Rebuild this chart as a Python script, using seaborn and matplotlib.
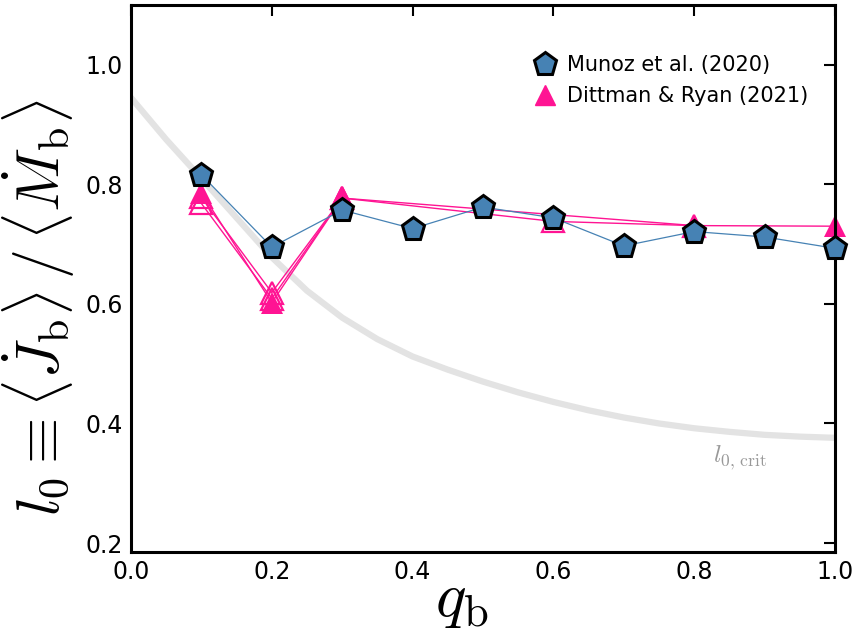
import numpy as np
import pandas as pd
import matplotlib
matplotlib.use("Agg")
import matplotlib.pyplot as plt
import seaborn as sns
from matplotlib.lines import Line2D

# ---- data ----
q_munoz = [0.1, 0.2, 0.3, 0.4, 0.5, 0.6, 0.7, 0.8, 0.9, 1.0]
l0_munoz = [0.816, 0.695, 0.757, 0.726, 0.762, 0.744, 0.697, 0.721, 0.712, 0.693]

q_dr_a = [0.1, 0.2, 0.3, 0.8, 1.0]
l0_dr_a = [0.786, 0.602, 0.777, 0.731, 0.730]
q_dr_b = [0.1, 0.2, 0.3, 0.6, 0.8]
l0_dr_b = [0.768, 0.609, 0.777, 0.738, 0.731]
q_dr_c = [0.1, 0.2, 0.3]
l0_dr_c = [0.778, 0.619, 0.777]

q_crit = [0.0, 0.05, 0.1, 0.15, 0.2, 0.25, 0.3, 0.35, 0.4, 0.45, 0.5,
          0.55, 0.6, 0.65, 0.7, 0.75, 0.8, 0.85, 0.9, 0.95, 1.0]
l0_crit = [0.945, 0.875, 0.810, 0.744, 0.678, 0.622, 0.577, 0.541, 0.512, 0.490, 0.470,
           0.452, 0.436, 0.422, 0.410, 0.400, 0.392, 0.386, 0.381, 0.378, 0.376]

sns.set_style("white")
plt.rcParams['font.family'] = ['DejaVu Sans']
plt.rcParams['mathtext.fontset'] = 'cm'
for k in ['text.color', 'axes.labelcolor', 'xtick.color', 'ytick.color']:
    plt.rcParams[k] = 'black'

fig = plt.figure(figsize=(8.58, 6.38), dpi=100)
ax = fig.add_axes([131/858, 1 - 552/638, (835-131)/858, (552-5)/638])

pink = "#FF1493"
blue = "#4682B4"

crit = pd.DataFrame({"q": q_crit, "l0": l0_crit})
sns.lineplot(data=crit, x="q", y="l0", ax=ax, color="#e3e3e3", lw=4.5, zorder=1)

for qq, ll, filled in [(q_dr_c, l0_dr_c, False), (q_dr_b, l0_dr_b, False), (q_dr_a, l0_dr_a, True)]:
    d = pd.DataFrame({"q": qq, "l0": ll})
    sns.lineplot(data=d, x="q", y="l0", ax=ax, color=pink, lw=1.0, marker="^",
                 markersize=16, markeredgewidth=1.6 if not filled else 0,
                 markerfacecolor=pink if filled else "none", markeredgecolor=pink,
                 zorder=3, clip_on=False)

dm = pd.DataFrame({"q": q_munoz, "l0": l0_munoz})
sns.lineplot(data=dm, x="q", y="l0", ax=ax, color=blue, lw=0.9, marker="p",
             markersize=17, markerfacecolor=blue, markeredgecolor="black",
             markeredgewidth=2.2, zorder=5, clip_on=False)

ax.set_xlim(0.0, 1.0)
ax.set_ylim(0.185, 1.1)
ax.set_xticks([0.0, 0.2, 0.4, 0.6, 0.8, 1.0])
ax.set_yticks([0.2, 0.4, 0.6, 0.8, 1.0])
ax.tick_params(direction="in", length=8, width=1.5, labelsize=17, top=True, right=True, pad=6)
for s in ax.spines.values():
    s.set_linewidth(2.2)
    s.set_color("black")
    s.set_zorder(4)

ax.set_xlabel(r"$q_{\rm b}$", fontsize=46)
ax.set_ylabel(r"$l_0 \equiv \langle \dot{J}_{\rm b}\rangle \,/\, \langle \dot{M}_{\rm b}\rangle$", fontsize=43)
ax.xaxis.set_label_coords(0.47, -0.03)
ax.yaxis.set_label_coords(-0.077, 0.447)

ax.text(0.827, 0.335, r"$l_{0,\,{\rm crit}}$", fontsize=18, color="#999999")

handles = [
    Line2D([], [], linestyle="none", marker="p", markersize=17, markerfacecolor=blue,
           markeredgecolor="black", markeredgewidth=2.2),
    Line2D([], [], linestyle="none", marker="^", markersize=15, markerfacecolor=pink,
           markeredgecolor=pink),
]
ax.legend(handles, ["Munoz et al. (2020)", "Dittman & Ryan (2021)"], loc="upper left",
          bbox_to_anchor=(0.554, 0.923), frameon=False, fontsize=15, handletextpad=0.3,
          borderaxespad=0.0, labelspacing=0.5, handlelength=1.5)

fig.savefig("out.png", dpi=100)
